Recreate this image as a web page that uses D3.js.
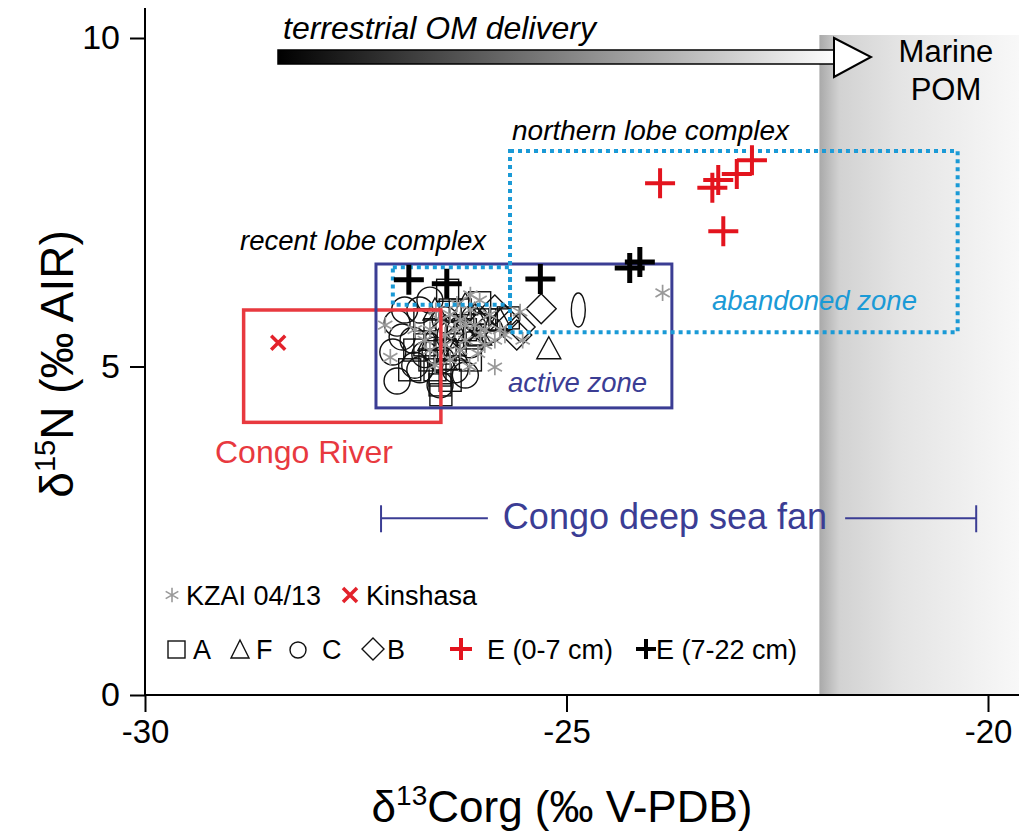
<!DOCTYPE html>
<html>
<head>
<meta charset="utf-8">
<script src="https://cdn.jsdelivr.net/npm/d3@7"></script>
<style>
  html, body { margin: 0; padding: 0; background: #fff; }
  svg { display: block; font-family: "Liberation Sans", Arial, sans-serif; }
</style>
</head>
<body>
<svg id="chart" width="1019" height="837"></svg>
<script>
// ---------------- DATA ----------------
const xTicks = [-30, -25, -20];
const yTicks = [0, 5, 10];

// KZAI 04/13 (grey asterisks): [d13C, d15N]
const kzai = [[-23.86,6.12],[-25.85,4.99],[-27.15,5.63],[-27.09,5.14],[-25.55,5.83],[-25.52,5.40],
  [-26.03,6.01],[-26.14,5.86],[-26.26,5.71],[-26.09,5.63],[-25.97,5.56],[-25.91,5.79],[-25.79,5.56],
  [-26.20,5.40],[-26.32,5.56],[-26.44,5.33],[-26.50,5.71],[-25.97,5.33],[-26.14,6.09],[-25.73,5.48],
  [-26.62,5.56],[-26.38,5.10],[-26.80,5.56],[-26.68,5.40],[-26.26,5.25],[-26.56,5.02],[-26.05,5.20],
  [-26.38,5.79],[-26.20,5.63],[-26.44,5.48],[-26.62,5.25],[-26.02,5.48],[-26.30,5.95],[-25.85,5.40],
  [-26.15,5.00],[-26.55,5.85]];
// Kinshasa (red x)
const kinshasa = [[-28.42,5.36]];
// Core A (squares)
const coreA = [[-26.49,4.57],[-26.41,6.16],[-26.03,5.97],[-25.69,5.74],[-25.79,5.71],[-26.56,5.56],
  [-26.68,5.33],[-26.86,4.95],[-26.50,4.87],[-26.32,5.33],[-26.14,5.10],[-26.20,5.56],[-25.97,5.71],
  [-26.68,5.71],[-26.38,5.86],[-26.62,5.10],[-26.50,4.72],[-26.44,5.25],[-26.26,5.86],[-26.56,4.95],
  [-26.80,5.25],[-26.09,5.48],[-26.38,4.79]];
// Core F (triangles)
const coreF = [[-25.21,5.27],[-26.20,5.94],[-26.03,5.48],[-26.62,5.40],[-26.32,5.25],[-25.79,5.71],
  [-26.44,5.10],[-26.09,5.79],[-26.56,5.86]];
// Core C (circles)
const coreC = [[-27.01,5.66],[-27.06,5.22],[-27.01,4.78],[-26.74,5.86],[-26.82,5.40],[-26.68,5.18],
  [-26.50,4.72],[-26.32,4.95],[-26.26,5.56],[-26.09,5.74],[-26.14,5.33],[-26.44,5.71],[-26.62,6.01],
  [-26.80,5.02],[-25.91,5.56],[-26.48,5.10],[-26.56,5.25],[-26.38,5.48],[-26.20,4.87],[-26.92,5.86],
  [-26.74,4.95],[-26.95,5.45]];
// Core C oddly elongated point
const coreCEllipse = [[-24.86,5.86]];
// Core B (diamonds)
const coreB = [[-25.30,5.88],[-25.73,5.71],[-25.59,5.48],[-25.55,5.60],[-25.85,5.86],[-26.44,5.56],
  [-26.26,5.48],[-26.03,5.62]];
// Core E 0-7 cm (red plus)
const coreE07 = [[-23.89,7.79],[-23.27,7.72],[-23.20,7.84],[-22.98,7.93],[-22.80,8.14],[-23.14,7.06]];
// Core E 7-22 cm (black plus)
const coreE722 = [[-26.87,6.32],[-26.42,6.26],[-25.31,6.33],[-24.25,6.50],[-24.13,6.59]];

// Zones: [x0, x1, y0, y1]
const congoRiverBox = [-28.83, -26.49, 4.15, 5.86];
const activeZoneBox = [-27.26, -23.75, 4.37, 6.56];
const recentLobeBox = [-27.06, -25.67, 5.94, 6.51];
const northernLobeBox = [-25.67, -20.36, 5.52, 8.28];
const fanRange = [-27.20, -20.14, 2.69];
const marineStart = -22;

// ---------------- CHART ----------------
const svg = d3.select("#chart");
const x = d3.scaleLinear().domain([-30, -20]).range([145, 988]);
const y = d3.scaleLinear().domain([0, 10]).range([695, 38]);

const defs = svg.append("defs");
const shadeGrad = defs.append("linearGradient").attr("id", "shade");
[[0,"#a9a9a9"],[0.1,"#d2d2d2"],[0.4,"#e4e4e4"],[1,"#f8f8f8"]].forEach(s =>
  shadeGrad.append("stop").attr("offset", s[0]).attr("stop-color", s[1]));
const arrowGrad = defs.append("linearGradient").attr("id", "arrowGrad");
[[0,"#000"],[1,"#fff"]].forEach(s =>
  arrowGrad.append("stop").attr("offset", s[0]).attr("stop-color", s[1]));

// Marine shade
svg.append("rect")
  .attr("x", x(marineStart)).attr("y", y(10) - 3)
  .attr("width", 1019 - x(marineStart)).attr("height", y(0) - y(10) + 3)
  .attr("fill", "url(#shade)");

// Axes
const gx = svg.append("g").attr("transform", `translate(0,${y(0)})`)
  .call(d3.axisBottom(x).tickValues(xTicks).tickSize(17).tickPadding(8).tickFormat(d3.format("d")));
gx.select(".domain").remove();
gx.selectAll("line").attr("stroke-width", 2);
gx.selectAll("text").attr("font-size", 33).attr("fill", "#000")
  .text(d => d < 0 ? "-" + Math.abs(d) : d);
const gy = svg.append("g").attr("transform", `translate(${x(-30)},0)`)
  .call(d3.axisLeft(y).tickValues(yTicks).tickSize(15).tickPadding(10));
gy.select(".domain").remove();
gy.selectAll("line").attr("stroke-width", 2);
gy.selectAll("text").attr("font-size", 34).attr("fill", "#000");
svg.append("line").attr("x1", x(-30)).attr("x2", x(-30)).attr("y1", 8).attr("y2", y(0))
  .attr("stroke", "#000").attr("stroke-width", 2);
svg.append("line").attr("x1", x(-30)).attr("x2", 1019).attr("y1", y(0)).attr("y2", y(0))
  .attr("stroke", "#000").attr("stroke-width", 2);

// Axis titles
const xt = svg.append("text").attr("x", 562).attr("y", 822).attr("text-anchor", "middle")
  .attr("font-size", 44).attr("fill", "#000");
xt.append("tspan").text("δ");
xt.append("tspan").attr("dy", -17).attr("font-size", 28).text("13");
xt.append("tspan").attr("dy", 17).text("Corg (‰ V-PDB)");
const yt = svg.append("text").attr("transform", "translate(73,364) rotate(-90)")
  .attr("text-anchor", "middle").attr("font-size", 46).attr("fill", "#000");
yt.append("tspan").text("δ");
yt.append("tspan").attr("dy", -18).attr("font-size", 29).text("15");
yt.append("tspan").attr("dy", 18).text("N (‰ AIR)");

// Top arrow
svg.append("rect").attr("x", 278).attr("y", 50).attr("width", 560).attr("height", 14)
  .attr("fill", "url(#arrowGrad)").attr("stroke", "#000").attr("stroke-width", 1.5);
svg.append("path").attr("d", "M834,38 L871,57 L834,77 Z")
  .attr("fill", "#fff").attr("stroke", "#000").attr("stroke-width", 2);
svg.append("text").attr("x", 283).attr("y", 39).attr("font-size", 32).attr("font-style", "italic")
  .attr("fill", "#000").text("terrestrial OM delivery");
svg.append("text").attr("x", 946).attr("y", 62).attr("text-anchor", "middle").attr("font-size", 31)
  .attr("fill", "#000").text("Marine");
svg.append("text").attr("x", 946).attr("y", 100).attr("text-anchor", "middle").attr("font-size", 31)
  .attr("fill", "#000").text("POM");

// Symbols
const mk = (type, size) => d3.symbol().type(type).size(size)();
const pts = svg.append("g");
pts.selectAll(".c").data(coreC).join("circle")
  .attr("cx", d => x(d[0])).attr("cy", d => y(d[1])).attr("r", 13)
  .attr("fill", "none").attr("stroke", "#111").attr("stroke-width", 1.4);
pts.selectAll(".ce").data(coreCEllipse).join("ellipse")
  .attr("cx", d => x(d[0])).attr("cy", d => y(d[1])).attr("rx", 7).attr("ry", 17)
  .attr("fill", "none").attr("stroke", "#111").attr("stroke-width", 1.4);
pts.selectAll(".a").data(coreA).join("rect")
  .attr("x", d => x(d[0]) - 11).attr("y", d => y(d[1]) - 11).attr("width", 22).attr("height", 22)
  .attr("fill", "none").attr("stroke", "#111").attr("stroke-width", 1.4);
pts.selectAll(".f").data(coreF).join("path")
  .attr("d", d => `M${x(d[0])},${y(d[1]) - 12} L${x(d[0]) + 12},${y(d[1]) + 10} L${x(d[0]) - 12},${y(d[1]) + 10} Z`)
  .attr("fill", "none").attr("stroke", "#111").attr("stroke-width", 1.4);
pts.selectAll(".b").data(coreB).join("path")
  .attr("d", d => `M${x(d[0])},${y(d[1]) - 15} L${x(d[0]) + 15},${y(d[1])} L${x(d[0])},${y(d[1]) + 15} L${x(d[0]) - 15},${y(d[1])} Z`)
  .attr("fill", "none").attr("stroke", "#111").attr("stroke-width", 1.4);
pts.selectAll(".k").data(kzai).join("path")
  .attr("transform", d => `translate(${x(d[0])},${y(d[1])})`)
  .attr("d", mk(d3.symbolAsterisk, 190))
  .attr("fill", "none").attr("stroke", "#999").attr("stroke-width", 1.7);
pts.selectAll(".ki").data(kinshasa).join("path")
  .attr("transform", d => `translate(${x(d[0])},${y(d[1])})`)
  .attr("d", "M-7,-7L7,7M-7,7L7,-7")
  .attr("fill", "none").attr("stroke", "#e3222b").attr("stroke-width", 3.5);

// Zones
const box = (b) => ({ x: x(b[0]), y: y(b[3]), w: x(b[1]) - x(b[0]), h: y(b[2]) - y(b[3]) });
const rb = box(congoRiverBox);
svg.append("rect").attr("x", rb.x).attr("y", rb.y).attr("width", rb.w).attr("height", rb.h)
  .attr("fill", "none").attr("stroke", "#e8393f").attr("stroke-width", 3.5);
const ab = box(activeZoneBox);
svg.append("rect").attr("x", ab.x).attr("y", ab.y).attr("width", ab.w).attr("height", ab.h)
  .attr("fill", "none").attr("stroke", "#3b3d94").attr("stroke-width", 3);
const lb = box(recentLobeBox);
svg.append("rect").attr("x", lb.x).attr("y", lb.y).attr("width", lb.w).attr("height", lb.h)
  .attr("fill", "none").attr("stroke", "#1b9ad6").attr("stroke-width", 4).attr("stroke-dasharray", "4,4");
const nb = box(northernLobeBox);
svg.append("rect").attr("x", nb.x).attr("y", nb.y).attr("width", nb.w).attr("height", nb.h)
  .attr("fill", "none").attr("stroke", "#1b9ad6").attr("stroke-width", 4).attr("stroke-dasharray", "4,4");

// Plus markers
const plus = "M-15,0L15,0M0,-15L0,15";
svg.selectAll(".e07").data(coreE07).join("path")
  .attr("transform", d => `translate(${x(d[0])},${y(d[1])})`).attr("d", plus)
  .attr("stroke", "#e3141e").attr("stroke-width", 4);
svg.selectAll(".e722").data(coreE722).join("path")
  .attr("transform", d => `translate(${x(d[0])},${y(d[1])})`).attr("d", plus)
  .attr("stroke", "#000").attr("stroke-width", 5);

// Zone labels
svg.append("text").attr("x", 512).attr("y", 140).attr("font-size", 28).attr("font-style", "italic")
  .attr("fill", "#000").text("northern lobe complex");
svg.append("text").attr("x", 240).attr("y", 250).attr("font-size", 27.5).attr("font-style", "italic")
  .attr("fill", "#000").text("recent lobe complex");
svg.append("text").attr("x", 712).attr("y", 310).attr("font-size", 27.5).attr("font-style", "italic")
  .attr("fill", "#1b9ad6").text("abandoned zone");
svg.append("text").attr("x", 508).attr("y", 392).attr("font-size", 27.5).attr("font-style", "italic")
  .attr("fill", "#3b3d94").text("active zone");
svg.append("text").attr("x", 215).attr("y", 463).attr("font-size", 32)
  .attr("fill", "#e8393f").text("Congo River");

// Congo deep sea fan bracket
const fy = y(fanRange[2]);
const fanText = svg.append("text").attr("x", 665).attr("y", fy + 11).attr("text-anchor", "middle")
  .attr("font-size", 36).attr("fill", "#3b3d94").text("Congo deep sea fan");
const fbb = fanText.node().getBBox();
const fan = svg.append("g").attr("stroke", "#3b3d94").attr("stroke-width", 2);
fan.append("line").attr("x1", x(fanRange[0])).attr("x2", fbb.x - 15).attr("y1", fy).attr("y2", fy);
fan.append("line").attr("x1", fbb.x + fbb.width + 18).attr("x2", x(fanRange[1])).attr("y1", fy).attr("y2", fy);
fan.append("line").attr("x1", x(fanRange[0])).attr("x2", x(fanRange[0])).attr("y1", fy - 13).attr("y2", fy + 14);
fan.append("line").attr("x1", x(fanRange[1])).attr("x2", x(fanRange[1])).attr("y1", fy - 13).attr("y2", fy + 14);

// Legend
const lg = svg.append("g");
const r1 = 595, r2 = 649, fs = 27;
lg.append("path").attr("transform", `translate(172,${r1})`).attr("d", mk(d3.symbolAsterisk, 150))
  .attr("fill", "none").attr("stroke", "#999").attr("stroke-width", 1.6);
lg.append("text").attr("x", 186).attr("y", r1 + 10).attr("font-size", fs).text("KZAI 04/13");
lg.append("path").attr("transform", `translate(350,${r1})`).attr("d", "M-7,-7L7,7M-7,7L7,-7")
  .attr("stroke", "#e3222b").attr("stroke-width", 3.5);
lg.append("text").attr("x", 366).attr("y", r1 + 10).attr("font-size", fs).text("Kinshasa");
lg.append("rect").attr("x", 168).attr("y", r2 - 8).attr("width", 17).attr("height", 17)
  .attr("fill", "none").attr("stroke", "#111").attr("stroke-width", 1.4);
lg.append("text").attr("x", 193).attr("y", r2 + 10).attr("font-size", fs).text("A");
lg.append("path").attr("d", `M240,${r2 - 9} L249,${r2 + 9} L231,${r2 + 9} Z`)
  .attr("fill", "none").attr("stroke", "#111").attr("stroke-width", 1.4);
lg.append("text").attr("x", 256).attr("y", r2 + 10).attr("font-size", fs).text("F");
lg.append("circle").attr("cx", 298).attr("cy", r2 + 1).attr("r", 8)
  .attr("fill", "none").attr("stroke", "#111").attr("stroke-width", 1.4);
lg.append("text").attr("x", 322).attr("y", r2 + 10).attr("font-size", fs).text("C");
lg.append("path").attr("d", `M373,${r2 - 11} L384,${r2} L373,${r2 + 11} L362,${r2} Z`)
  .attr("fill", "none").attr("stroke", "#111").attr("stroke-width", 1.4);
lg.append("text").attr("x", 387).attr("y", r2 + 10).attr("font-size", fs).text("B");
lg.append("path").attr("transform", `translate(461,${r2})`).attr("d", "M-11,0L11,0M0,-11L0,11")
  .attr("stroke", "#e3141e").attr("stroke-width", 4);
lg.append("text").attr("x", 487).attr("y", r2 + 10).attr("font-size", fs).text("E (0-7 cm)");
lg.append("path").attr("transform", `translate(646,${r2})`).attr("d", "M-10,0L10,0M0,-10L0,10")
  .attr("stroke", "#000").attr("stroke-width", 4);
lg.append("text").attr("x", 656).attr("y", r2 + 10).attr("font-size", fs).text("E (7-22 cm)");
</script>
</body>
</html>
